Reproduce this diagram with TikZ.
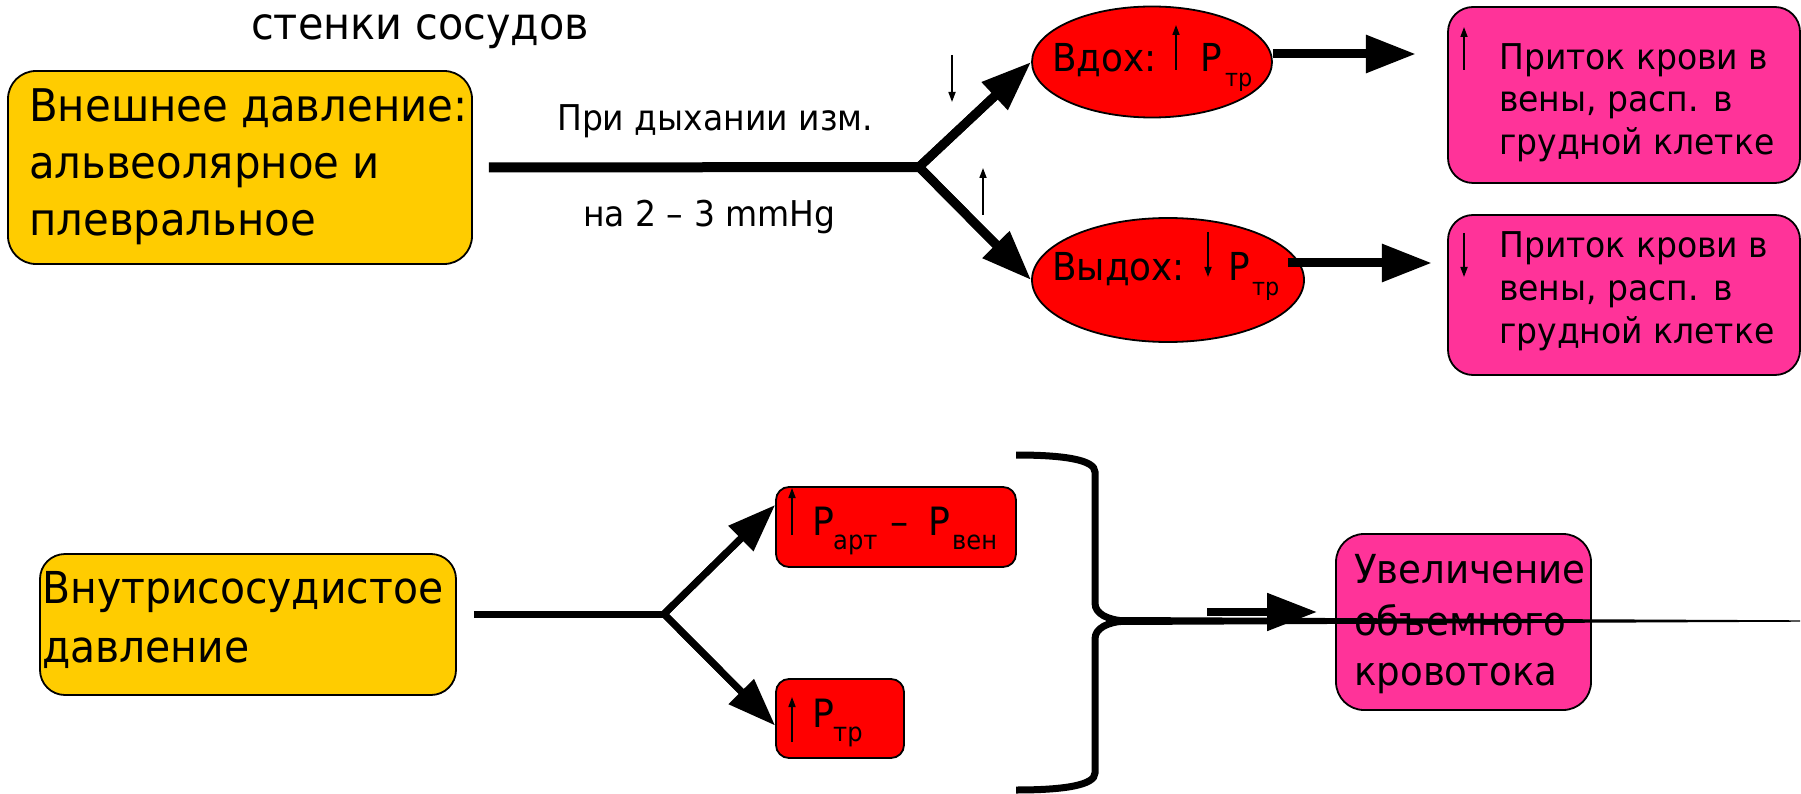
\documentclass[tikz,border=0pt]{standalone}
\usepackage{fontspec}
\setmainfont{DejaVu Sans}[FakeStretch=0.93]
\usetikzlibrary{arrows.meta,shapes.geometric,calc}
\definecolor{yel}{HTML}{FFCC00}
\definecolor{redf}{HTML}{FF0000}
\definecolor{pinkf}{HTML}{FF3399}
\newcommand{\fs}[1]{\fontsize{#1}{#1}\selectfont}
\begin{document}
\begin{tikzpicture}[x=1pt,y=-1pt,
  bx/.style={draw=black,line width=1.8pt,inner sep=0pt},
  txt/.style={inner sep=0pt,anchor=base west},
  bigarr/.style={line width=9pt,-{Triangle[length=50pt,width=36pt]}},
  midarr/.style={line width=7pt,-{Triangle[length=48pt,width=34pt]}},
  smallarr/.style={line width=1.6pt,-{Triangle[length=10pt,width=7pt]}}]
\useasboundingbox (0,0) rectangle (1801,794);

% title
\node[txt,font=\fs{44.5}] (title) at (251,40) {стенки сосудов};

% external pressure box
\node[bx,fill=yel,rounded corners=28pt,minimum width=464pt,minimum height=193pt] (ext) at (240,167.5) {};
\node[txt,font=\fs{45}] (ext1) at (29,122) {Внешнее давление:};
\node[txt,font=\fs{45}] (ext2) at (29,179) {альвеолярное и};
\node[txt,font=\fs{45}] (ext3) at (29,236) {плевральное};

\coordinate (j1) at (919,167);
\draw[line width=10pt] ($(ext.east)+(16,0)$) -- (j1);
\node[txt,font=\fs{35.5}] (l1) at (557,131) {При дыхании изм.};
\node[txt,font=\fs{35.5}] (l2) at (583,227) {на 2 – 3 mmHg};

% ellipses
\node[ellipse,bx,fill=redf,minimum width=240pt,minimum height=111pt] (vdoh) at (1152,62) {};
\node[ellipse,bx,fill=redf,minimum width=272pt,minimum height=124pt] (vydoh) at (1168,280) {};
\draw[line width=9pt,line join=miter] ($(vdoh.west)!45pt!(j1)$) -- (j1) -- ($(vydoh.west)!45pt!(j1)$);
\draw[bigarr] (j1) -- (vdoh.west);
\draw[bigarr] (j1) -- (vydoh.west);
\draw[smallarr] (952,55) -- (952,102);
\draw[smallarr] (983,215) -- (983,168);

\node[txt,font=\fs{38.5}] (vdt) at (1052,72) {Вдох:};
\draw[smallarr] (1176,70) -- (1176,25);
\node[txt,font=\fs{38.5}] (vdp) at (1200,72) {P};
\node[txt,font=\fs{24}] (vds) at (1225,87) {тр};

\node[txt,font=\fs{38.5}] (vyt) at (1052,280) {Выдох:};
\draw[smallarr] (1208,232) -- (1208,277);
\node[txt,font=\fs{38.5}] (vyp) at (1228,280) {P};
\node[txt,font=\fs{24}] (vys) at (1252,295) {тр};

% pink boxes top
\node[bx,fill=pinkf,rounded corners=25pt,minimum width=352pt,minimum height=176pt] (pb1) at (1624,95) {};
\node[txt,font=\fs{35.5}] (pb1a) at (1499,70) {Приток крови в};
\node[txt,font=\fs{35.5}] (pb1b) at (1499,112) {вены, расп. в};
\node[txt,font=\fs{35.5}] (pb1c) at (1499,155) {грудной клетке};
\draw[smallarr] (1464,70) -- (1464,27);

\node[bx,fill=pinkf,rounded corners=25pt,minimum width=352pt,minimum height=160pt] (pb2) at (1624,295) {};
\node[txt,font=\fs{35.5}] (pb2a) at (1499,258) {Приток крови в};
\node[txt,font=\fs{35.5}] (pb2b) at (1499,300) {вены, расп. в};
\node[txt,font=\fs{35.5}] (pb2c) at (1499,343) {грудной клетке};
\draw[smallarr] (1464,233) -- (1464,277);

\draw[bigarr] ($(vdoh.east)+(0,-8)$) -- ++(143,0);
\draw[bigarr] ($(vydoh.east)+(-17,-17)$) -- ++(144,0);

% bottom part
\node[bx,fill=yel,rounded corners=25pt,minimum width=416pt,minimum height=141pt] (intr) at (248,624.5) {};
\node[txt,font=\fs{44}] (intr1) at (42,603) {Внутрисосудистое};
\node[txt,font=\fs{44}] (intr2) at (42,662) {давление};

\coordinate (j2) at (664,614);
\draw[line width=7pt] ($(intr.east)+(17,-10.5)$) -- (j2);

\node[bx,fill=redf,rounded corners=13pt,minimum width=240pt,minimum height=80pt] (rb1) at (896,527) {};
\node[bx,fill=redf,rounded corners=13pt,minimum width=128pt,minimum height=79pt] (rb2) at (840,718.5) {};
\draw[line width=7pt,line join=miter] ($($(rb1.west)+(0,-22)$)!45pt!(j2)$) -- (j2) -- ($($(rb2.west)+(0,7)$)!45pt!(j2)$);
\draw[midarr] (j2) -- ($(rb1.west)+(0,-22)$);
\draw[midarr] (j2) -- ($(rb2.west)+(0,7)$);

\draw[smallarr] (792,535) -- (792,488);
\node[txt,font=\fs{39}] (rp1) at (812,535) {P};
\node[txt,font=\fs{26}] (rs1) at (833,549) {арт};
\node[txt,font=\fs{39}] (rm) at (890,535) {–};
\node[txt,font=\fs{39}] (rp2) at (928,535) {P};
\node[txt,font=\fs{26}] (rs2) at (952,549) {вен};

\draw[smallarr] (792,742) -- (792,697);
\node[txt,font=\fs{39}] (rp3) at (812,727) {P};
\node[txt,font=\fs{26}] (rs3) at (833,741) {тр};

% bracket
\coordinate (btip) at (1125,621);
\draw[line width=7pt] (1016,455) .. controls (1065,455) and (1095,460) .. (1095,472)
  -- (1095,603) .. controls (1095,614) and (1108,620) .. (btip)
  .. controls (1108,622) and (1095,628) .. (1095,639)
  -- (1095,773) .. controls (1095,785) and (1065,790) .. (1016,790);

% result box
\node[bx,fill=pinkf,rounded corners=28pt,minimum width=255pt,minimum height=176pt] (pb3) at (1463.5,622) {};
\node[txt,font=\fs{40}] (pb3a) at (1354,583) {Увеличение};
\node[txt,font=\fs{40}] (pb3b) at (1354,635) {объемного};
\node[txt,font=\fs{40}] (pb3c) at (1354,685) {кровотока};

\draw[line width=8pt,-{Triangle[length=50pt,width=36pt]}] ($(pb3.west)+(-128,-10)$) -- ($(pb3.west)+(-18,-10)$);
\fill ($(btip)+(-5,-4)$) -- (1800,620.3) -- (1800,621.7) -- ($(btip)+(-5,4)$) -- cycle;
\end{tikzpicture}
\end{document}
